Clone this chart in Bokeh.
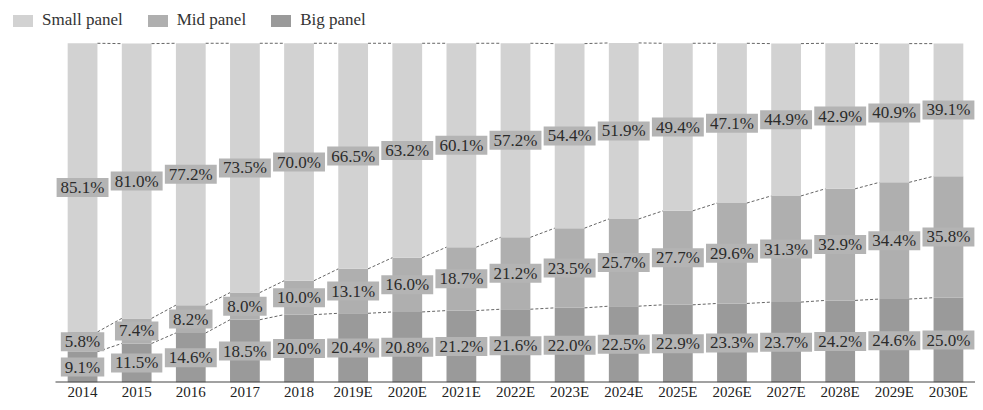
from bokeh.plotting import figure
from bokeh.models import Range1d, FixedTicker, Legend, LegendItem, ColumnDataSource
from bokeh.core.properties import value
from bokeh.embed import file_html
from bokeh.resources import INLINE

years = ["2014", "2015", "2016", "2017", "2018", "2019E", "2020E", "2021E", "2022E",
         "2023E", "2024E", "2025E", "2026E", "2027E", "2028E", "2029E", "2030E"]
small_panel = [85.1, 81.0, 77.2, 73.5, 70.0, 66.5, 63.2, 60.1, 57.2, 54.4, 51.9, 49.4, 47.1, 44.9, 42.9, 40.9, 39.1]
mid_panel = [5.8, 7.4, 8.2, 8.0, 10.0, 13.1, 16.0, 18.7, 21.2, 23.5, 25.7, 27.7, 29.6, 31.3, 32.9, 34.4, 35.8]
big_panel = [9.1, 11.5, 14.6, 18.5, 20.0, 20.4, 20.8, 21.2, 21.6, 22.0, 22.5, 22.9, 23.3, 23.7, 24.2, 24.6, 25.0]

FONT = "Liberation Serif"
C_SMALL, C_MID, C_BIG = "#d2d2d2", "#afafaf", "#9a9a9a"
BAR_W = 0.55

W, H = 975, 402
PLOT_LEFT_PX = 55      # where the category band starts
PLOT_TOP_PX = 43       # where 100% sits
AXIS_H = 18            # room for tick labels

n = len(years)
xs = list(range(n))

frame_h = H - AXIS_H
x_scale = (W - PLOT_LEFT_PX) / n
x_start = -0.5 - PLOT_LEFT_PX / x_scale
y_scale = (frame_h - PLOT_TOP_PX) / 100.0
y_end = 100 + PLOT_TOP_PX / y_scale

p = figure(width=W, height=H, output_backend="svg", toolbar_location=None,
           x_range=Range1d(x_start, n - 0.5), y_range=Range1d(0, y_end),
           min_border_left=0, min_border_right=0, min_border_top=0, min_border_bottom=AXIS_H,
           y_axis_location=None)
p.outline_line_color = None
p.xgrid.visible = False
p.ygrid.visible = False

src = ColumnDataSource(dict(x=xs, big=big_panel, mid=mid_panel, small=small_panel))
rs = p.vbar_stack(["big", "mid", "small"], x="x", width=BAR_W, source=src,
                  color=[C_BIG, C_MID, C_SMALL], line_color=None)

# dashed connectors between bar segment tops
b1 = big_panel
b2 = [b + m for b, m in zip(big_panel, mid_panel)]
b3 = [b + m + s for b, m, s in zip(big_panel, mid_panel, small_panel)]
for bound in (b1, b2, b3):
    p.segment(x0=[i + BAR_W / 2 for i in xs[:-1]], y0=bound[:-1],
              x1=[i + 1 - BAR_W / 2 for i in xs[:-1]], y1=bound[1:],
              line_color="#666666", line_width=1, line_dash="3 2")

# value labels
def label_series(vals, bases):
    ys = [b + v / 2 for v, b in zip(vals, bases)]
    txt = [f"{v:.1f}%" for v in vals]
    p.text(x=xs, y=ys, text=txt, text_font=value(FONT), text_font_size="17px",
           text_color="#2b2b2b", text_align="center", text_baseline="middle",
           background_fill_color="#b4b4b4", padding=(4, 0))

label_series(big_panel, [0] * n)
label_series(mid_panel, b1)
label_series(small_panel, b2)

# baseline (axis line only under the category band)
p.segment(x0=[-0.5], y0=[0], x1=[n - 0.5], y1=[0], line_color="#444444", line_width=2)

ax = p.xaxis[0]
ax.ticker = FixedTicker(ticks=xs)
ax.major_label_overrides = {i: y for i, y in enumerate(years)}
ax.axis_line_color = None
ax.major_tick_line_color = None
ax.minor_tick_line_color = None
ax.major_tick_out = 0
ax.major_tick_in = 0
ax.minor_tick_out = 0
ax.minor_tick_in = 0
ax.major_label_standoff = 1
ax.major_label_text_font = FONT
ax.major_label_text_font_size = "15px"
ax.major_label_text_color = "#222222"

legend = Legend(items=[LegendItem(label="Small panel", renderers=[rs[2]]),
                       LegendItem(label="Mid panel", renderers=[rs[1]]),
                       LegendItem(label="Big panel", renderers=[rs[0]])],
                orientation="horizontal", location="top_left",
                glyph_width=25, glyph_height=15, label_standoff=7, spacing=22,
                padding=0, margin=10, border_line_color=None,
                background_fill_alpha=0,
                label_text_font=FONT, label_text_font_size="17px",
                label_text_color="#333333")
p.add_layout(legend, "center")

open("out.html", "w").write(file_html(p, INLINE))
